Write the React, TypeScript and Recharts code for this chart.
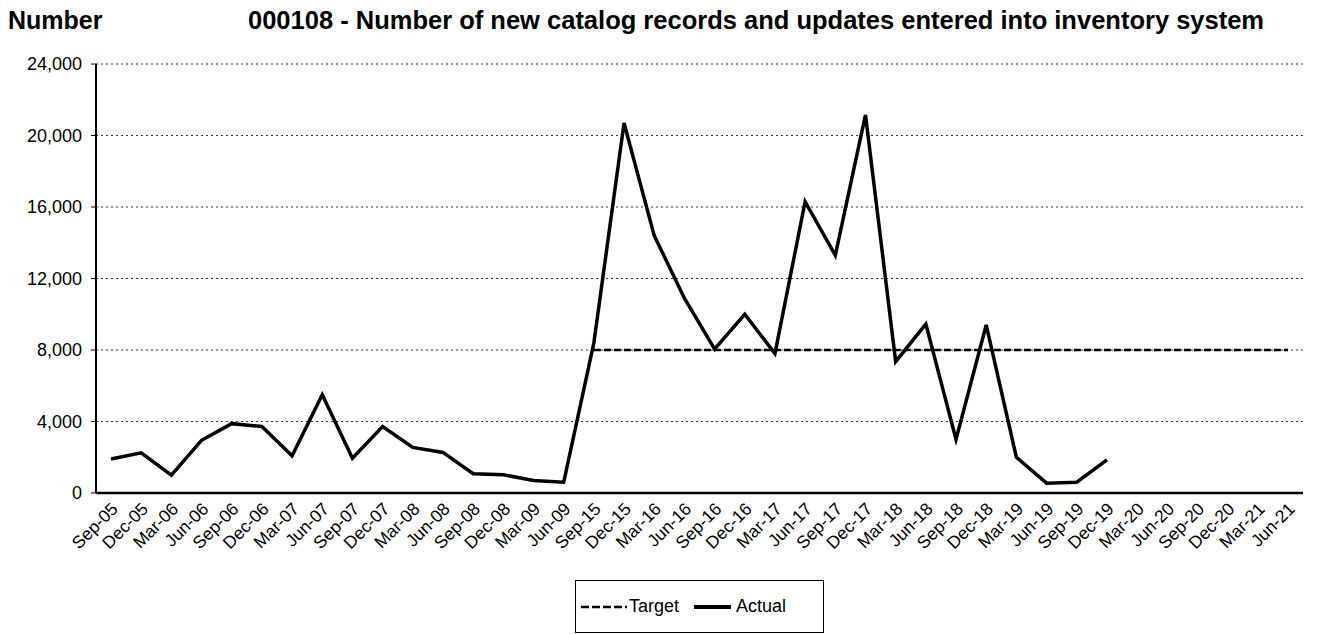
import { LineChart, Line, XAxis, YAxis, CartesianGrid } from 'recharts'

const FONT = '"Liberation Sans", Arial, sans-serif'

const CATEGORIES = [
  'Sep-05', 'Dec-05', 'Mar-06', 'Jun-06', 'Sep-06', 'Dec-06', 'Mar-07', 'Jun-07',
  'Sep-07', 'Dec-07', 'Mar-08', 'Jun-08', 'Sep-08', 'Dec-08', 'Mar-09', 'Jun-09',
  'Sep-15', 'Dec-15', 'Mar-16', 'Jun-16', 'Sep-16', 'Dec-16', 'Mar-17', 'Jun-17',
  'Sep-17', 'Dec-17', 'Mar-18', 'Jun-18', 'Sep-18', 'Dec-18', 'Mar-19', 'Jun-19',
  'Sep-19', 'Dec-19', 'Mar-20', 'Jun-20', 'Sep-20', 'Dec-20', 'Mar-21', 'Jun-21',
]

const ACTUAL = [
  1900, 2250, 1000, 2950, 3880, 3720, 2080, 5500,
  1950, 3720, 2550, 2270, 1080, 1020, 700, 600,
  8400, 20700, 14400, 10900, 8050, 10000, 7800, 16300,
  13300, 21150, 7350, 9450, 3000, 9400, 2000, 550,
  600, 1850, null, null, null, null, null, null,
]

const TARGET = [
  null, null, null, null, null, null, null, null,
  null, null, null, null, null, null, null, null,
  8000, 8000, 8000, 8000, 8000, 8000, 8000, 8000,
  8000, 8000, 8000, 8000, 8000, 8000, 8000, 8000,
  8000, 8000, 8000, 8000, 8000, 8000, 8000, 8000,
]

const Y_TICKS = [0, 4000, 8000, 12000, 16000, 20000, 24000]

const data = CATEGORIES.map((period, i) => ({
  period,
  actual: ACTUAL[i],
  target: TARGET[i],
}))

const AngledTick = ({ x, y, payload }: any) => {
  const ax = x + 8
  const ay = y + 17
  return (
    <text
      x={ax}
      y={ay}
      transform={`rotate(-45, ${ax}, ${ay})`}
      textAnchor="end"
      fontSize={17.5}
      fontFamily={FONT}
      fill="#000"
    >
      {payload.value}
    </text>
  )
}

export default function App() {
  return (
    <div style={{ position: 'absolute', left: 0, top: 0, width: 1317, height: 634, background: '#fff', fontFamily: FONT }}>
      <div style={{ position: 'absolute', left: 8, top: 6, fontSize: 25, fontWeight: 'bold' }}>Number</div>
      <div style={{ position: 'absolute', left: 248, top: 6, fontSize: 25.5, fontWeight: 'bold', whiteSpace: 'nowrap' }}>
        000108 - Number of new catalog records and updates entered into inventory system
      </div>

      <LineChart width={1317} height={634} data={data} margin={{ top: 64, right: 14, bottom: 61, left: 6 }}>
        <CartesianGrid vertical={false} stroke="#333" strokeDasharray="2 3" />
        <XAxis
          dataKey="period"
          interval={0}
          height={80}
          padding={{ left: 15, right: 15 }}
          axisLine={{ stroke: '#000', strokeWidth: 2.5 }}
          tickLine={false}
          tickSize={0}
          tickMargin={0}
          tick={<AngledTick />}
        />
        <YAxis
          width={90}
          domain={[0, 24000]}
          ticks={Y_TICKS}
          interval={0}
          tickFormatter={(v: number) => v.toLocaleString('en-US')}
          axisLine={{ stroke: '#000', strokeWidth: 2 }}
          tickLine={{ stroke: '#000' }}
          tickSize={5}
          tickMargin={9}
          tick={{ fontSize: 18, fill: '#000', fontFamily: FONT }}
        />
        <YAxis
          yAxisId="right"
          orientation="right"
          width={0}
          domain={[0, 24000]}
          tick={false}
          tickLine={false}
          axisLine={{ stroke: '#888', strokeWidth: 1 }}
        />
        <Line
          dataKey="target"
          stroke="#000"
          strokeWidth={2.5}
          strokeDasharray="7 3"
          dot={false}
          isAnimationActive={false}
        />
        <Line
          dataKey="actual"
          stroke="#000"
          strokeWidth={3.5}
          strokeLinejoin="miter"
          dot={false}
          isAnimationActive={false}
        />
      </LineChart>

      <div
        style={{
          position: 'absolute',
          left: 575,
          top: 580,
          width: 249,
          height: 53,
          border: '1px solid #000',
          boxSizing: 'border-box',
          fontSize: 18,
        }}
      >
        <svg width={46} height={6} style={{ position: 'absolute', left: 5, top: 23 }}>
          <line x1={0} y1={3} x2={46} y2={3} stroke="#000" strokeWidth={2.5} strokeDasharray="8 3" />
        </svg>
        <span style={{ position: 'absolute', left: 53, top: 15 }}>Target</span>
        <svg width={37} height={6} style={{ position: 'absolute', left: 118, top: 23 }}>
          <line x1={0} y1={3} x2={37} y2={3} stroke="#000" strokeWidth={4} />
        </svg>
        <span style={{ position: 'absolute', left: 160, top: 15 }}>Actual</span>
      </div>
    </div>
  )
}
